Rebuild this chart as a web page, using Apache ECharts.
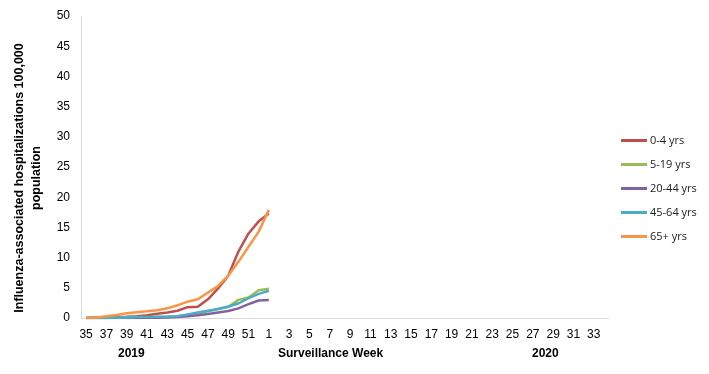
<!DOCTYPE html>
<html>
<head>
<meta charset="utf-8">
<script src="https://cdn.jsdelivr.net/npm/echarts@6/dist/echarts.min.js"></script>
<style>html,body{margin:0;padding:0;background:#fff}#c{width:709px;height:374px}</style>
</head>
<body>
<div id="c"></div>
<script>
const weeks = ['35','36','37','38','39','40','41','42','43','44','45','46','47','48','49','50','51','52',
  '1','2','3','4','5','6','7','8','9','10','11','12','13','14','15','16','17','18','19','20','21','22','23','24','25','26','27','28','29','30','31','32','33','34'];
const seriesNames = ['0-4 yrs','5-19 yrs','20-44 yrs','45-64 yrs','65+ yrs'];
const age0_4   = [0,0.05,0.1,0.15,0.2,0.3,0.45,0.7,0.9,1.2,1.8,1.85,3.1,4.9,7.0,11.0,14.0,16.0,17.3];
const age5_19  = [0,0,0,0.05,0.1,0.1,0.1,0.15,0.2,0.3,0.5,0.8,1.1,1.5,1.8,3.0,3.4,4.6,4.85];
const age20_44 = [0,0,0,0,0,0,0.05,0.05,0.1,0.15,0.3,0.45,0.65,0.9,1.15,1.6,2.3,2.9,3.0];
const age45_64 = [0,0,0,0.05,0.1,0.15,0.15,0.2,0.2,0.3,0.6,0.9,1.2,1.5,1.9,2.4,3.3,4.0,4.5];
const age65    = [0,0.1,0.3,0.5,0.8,0.95,1.1,1.3,1.6,2.1,2.7,3.1,4.2,5.3,7.0,9.3,11.8,14.3,17.9];
const seriesData = [age0_4, age5_19, age20_44, age45_64, age65];
const colors = ['#C0504D','#9BBB59','#8064A2','#4BACC6','#F79646'];
const yTitle = 'Influenza-associated hospitalizations 100,000\npopulation';

const chart = echarts.init(document.getElementById('c'));
chart.setOption({
  animation: false,
  color: colors,
  grid: { left: 81, right: 100, top: 16, bottom: 56, containLabel: false },
  legend: {
    orient: 'vertical', left: 616, top: 130,
    icon: 'rect', itemWidth: 26, itemHeight: 3, itemGap: 13,
    textStyle: { fontFamily: 'Open Sans', fontSize: 11, color: '#222', padding: [0,0,0,-2] },
    data: seriesNames
  },
  xAxis: {
    type: 'category', data: weeks, boundaryGap: true,
    axisLine: { lineStyle: { color: '#D9D9D9', width: 1 } },
    axisTick: { show: false },
    axisLabel: { interval: 1, fontFamily: 'Liberation Sans', fontSize: 12, color: '#000', margin: 11 }
  },
  yAxis: {
    type: 'value', min: 0, max: 50, interval: 5,
    axisLine: { show: true, lineStyle: { color: '#D9D9D9', width: 1 } },
    axisTick: { show: false },
    splitLine: { show: false },
    axisLabel: { fontFamily: 'Liberation Sans', fontSize: 12, color: '#000', margin: 11 }
  },
  graphic: [
    { type: 'text', x: 28, y: 178, rotation: Math.PI / 2,
      style: { text: yTitle, font: 'bold 12.5px Liberation Sans', fill: '#000', align: 'center', verticalAlign: 'middle', lineHeight: 17 } },
    { type: 'text', left: 118, top: 348, style: { text: '2019', font: 'bold 12px Liberation Sans', fill: '#000' } },
    { type: 'text', left: 278, top: 348, style: { text: 'Surveillance Week', font: 'bold 12px Liberation Sans', fill: '#000' } },
    { type: 'text', left: 532, top: 348, style: { text: '2020', font: 'bold 12px Liberation Sans', fill: '#000' } }
  ],
  series: seriesNames.map((n, i) => ({
    name: n, type: 'line', data: seriesData[i], symbol: 'none',
    lineStyle: { width: 2.5, color: colors[i] }, itemStyle: { color: colors[i] }
  }))
});
</script>
</body>
</html>
